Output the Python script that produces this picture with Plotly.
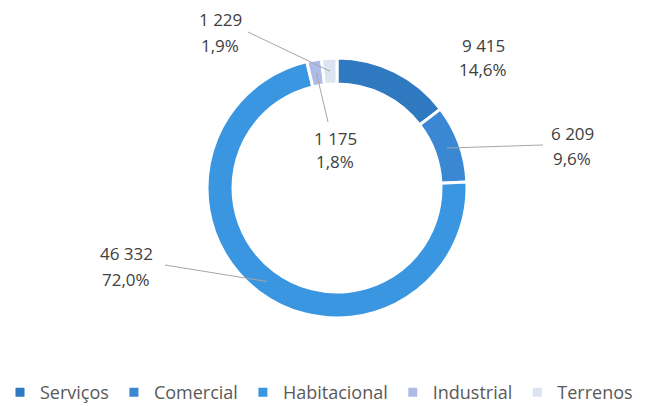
import math
import plotly.graph_objects as go

# Building stock by use type
categories = ["Serviços", "Comercial", "Habitacional", "Industrial", "Terrenos"]
values = [9415, 6209, 46332, 1175, 1229]
colors = ["#2f79c1", "#3a88d4", "#3b96e1", "#aebbe6", "#dde4f1"]

W, H = 667, 406
MB = 32                      # bottom margin that holds the legend
PH = H - MB                  # plot-area height in pixels
FONT = "Open Sans"
TEXT_COLOR = "#404040"
LINE_COLOR = "#a6a6a6"

# donut placement in pixels (left, right, top, bottom)
px_l, px_r, px_t, px_b = 207, 467, 57, 319
HOLE = 0.8


def to_paper(x, y):
    return x / W, (PH - y) / PH


fig = go.Figure(go.Pie(
    labels=categories,
    values=values,
    marker=dict(colors=colors, line=dict(color="white", width=3)),
    hole=HOLE,
    sort=False,
    direction="clockwise",
    rotation=0,
    textinfo="none",
    hoverinfo="skip",
    domain=dict(x=[px_l / W, px_r / W], y=[to_paper(0, px_b)[1], to_paper(0, px_t)[1]]),
))


def fmt_value(v):
    return f"{v:,}".replace(",", " ")


def fmt_pct(v, total):
    return f"{100 * v / total:.1f}".replace(".", ",") + "%"


total = sum(values)
cx, cy = (px_l + px_r) / 2, (px_t + px_b) / 2
r_out = min(px_r - px_l, px_b - px_t) / 2
r_mid = r_out * (1 + HOLE) / 2

# label placement: (text centre x, value line y, percent line y, leader line start or None)
label_pos = {
    "Serviços": (483, 45, 70, None),
    "Comercial": (572, 133, 158, (543, 145)),
    "Habitacional": (126, 253, 279, (165, 265)),
    "Industrial": (335, 138, 162, (328, 122)),
    "Terrenos": (220, 20, 45, (248, 32)),
}

annotations = []
shapes = []
cum = 0.0
for cat, v in zip(categories, values):
    frac_mid = (cum + v / 2) / total
    cum += v
    ang = 2 * math.pi * frac_mid
    ring_x = cx + r_mid * math.sin(ang)
    ring_y = cy - r_mid * math.cos(ang)

    tx, ty1, ty2, start = label_pos[cat]
    for txt, ty in ((fmt_value(v), ty1), (fmt_pct(v, total), ty2)):
        ax_, ay_ = to_paper(tx, ty)
        annotations.append(dict(
            x=ax_, y=ay_, xref="paper", yref="paper", text=txt,
            showarrow=False, xanchor="center", yanchor="middle",
            font=dict(family=FONT, size=17, color=TEXT_COLOR),
        ))
    if start is not None:
        x0, y0 = to_paper(*start)
        x1, y1 = to_paper(ring_x, ring_y)
        shapes.append(dict(
            type="line", xref="paper", yref="paper",
            x0=x0, y0=y0, x1=x1, y1=y1,
            line=dict(color=LINE_COLOR, width=1),
        ))

fig.update_layout(
    width=W, height=H,
    margin=dict(l=0, r=0, t=0, b=MB, autoexpand=False),
    paper_bgcolor="white",
    plot_bgcolor="white",
    showlegend=True,
    legend=dict(
        orientation="h",
        x=0, xanchor="left",
        y=0, yanchor="top",
        font=dict(family=FONT, size=18, color="#595959"),
        traceorder="normal",
        itemclick=False, itemdoubleclick=False,
    ),
    annotations=annotations,
    shapes=shapes,
)

fig.write_html("out.html")
